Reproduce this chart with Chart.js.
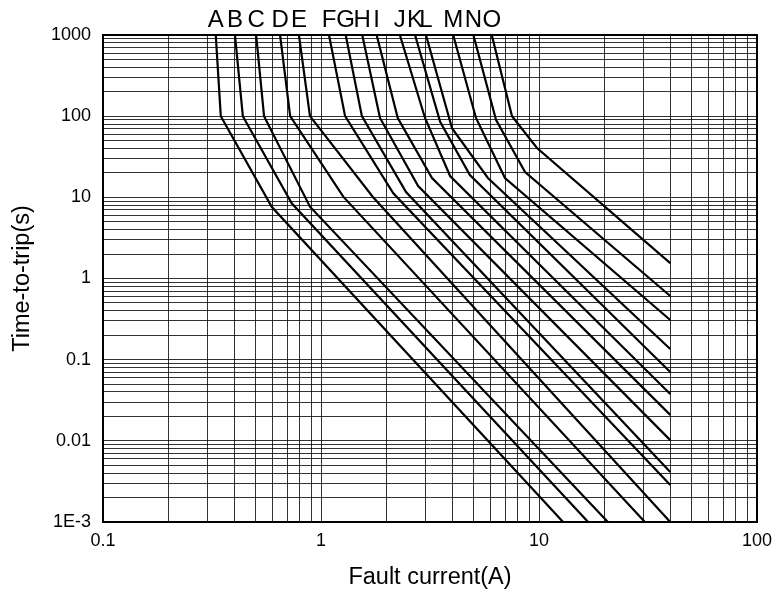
<!DOCTYPE html>
<html>
<head>
<meta charset="utf-8">
<script src="https://cdn.jsdelivr.net/npm/chart.js@4.4.1/dist/chart.umd.min.js"></script>
<style>
  body { margin: 0; background: #fff; }
  #wrap { width: 782px; height: 592px; }
</style>
</head>
<body>
<div id="wrap"><canvas id="grafico"></canvas></div>
<script>
// curve names, shown above the top of the plot
const curveNames = ['A', 'B', 'C', 'D', 'E', 'F', 'G', 'H', 'I', 'J', 'K', 'L', 'M', 'N', 'O'];

// [current (A), time (s)], one list per curve
const curveA = [[0.329, 1000], [0.347, 100], [0.595, 7.6], [12.9, 0.001]];
const curveB = [[0.403, 1000], [0.438, 100], [0.734, 8.45], [16.8, 0.001]];
const curveC = [[0.504, 1000], [0.548, 100], [0.89, 7.67], [20.7, 0.001]];
const curveD = [[0.649, 1000], [0.722, 100], [1.265, 10.2], [30.6, 0.001]];
const curveE = [[0.792, 1000], [0.89, 100], [1.73, 10.1], [40, 0.001]];
const curveF = [[1.088, 1000], [1.29, 100], [2.146, 11.2], [40, 0.00286]];
const curveG = [[1.298, 1000], [1.54, 100], [2.455, 11.6], [40, 0.00413]];
const curveH = [[1.546, 1000], [1.865, 95], [2.79, 13.8], [40, 0.0102]];
const curveI = [[1.80, 1000], [2.25, 95], [3.23, 17.3], [40, 0.0209]];
const curveJ = [[2.30, 1000], [3.0, 95], [3.91, 18.3], [40, 0.0378]];
const curveK = [[2.70, 1000], [3.52, 85], [4.82, 18.8], [40, 0.0705]];
const curveL = [[3.03, 1000], [3.99, 71], [5.83, 17.3], [40, 0.1355]];
const curveM = [[4.04, 1000], [5.14, 95], [6.98, 17.3], [40, 0.308]];
const curveN = [[5.0, 1000], [6.35, 90], [8.63, 20.5], [40, 0.609]];
const curveO = [[6.07, 1000], [7.52, 100], [9.79, 40.5], [40, 1.55]];

const curves = [curveA, curveB, curveC, curveD, curveE, curveF, curveG, curveH,
                curveI, curveJ, curveK, curveL, curveM, curveN, curveO];

// axis decades and their labels
const xMajor = [0.1, 1, 10, 100];
const xTickLabels = ['0.1', '1', '10', '100'];
const yMajor = [0.001, 0.01, 0.1, 1, 10, 100, 1000];
const yTickLabels = ['1E-3', '0.01', '0.1', '1', '10', '100', '1000'];

// 1..9 inside each decade, for the log grid
function logTicks(majors) {
    const out = [];
    for (let d = 0; d < majors.length - 1; d++) {
        for (let m = 1; m <= 9; m++) out.push(m * majors[d]);
    }
    out.push(majors[majors.length - 1]);
    return out;
}

function labelFor(v, majors, labels) {
    const i = majors.findIndex(m => Math.abs(v / m - 1) < 1e-6);
    return i >= 0 ? labels[i] : '';
}

const FONT = '"Liberation Sans", Arial, sans-serif';

// frame around the plot + letters on top
const moldura = {
    id: 'moldura',
    afterDraw(chart) {
        const { ctx, chartArea: a, scales } = chart;
        ctx.save();
        ctx.strokeStyle = '#000';
        ctx.lineWidth = 2;
        ctx.strokeRect(a.left, a.top, a.right - a.left, a.bottom - a.top);
        ctx.fillStyle = '#000';
        ctx.font = '24px ' + FONT;
        ctx.textAlign = 'center';
        ctx.textBaseline = 'alphabetic';
        curves.forEach((c, i) => {
            const x = scales.x.getPixelForValue(c[0][0]);
            ctx.fillText(curveNames[i], x, a.top - 8);
        });
        ctx.restore();
    }
};

document.addEventListener('DOMContentLoaded', () => {
    const ctx = document.getElementById('grafico').getContext('2d');
    new Chart(ctx, {
        type: 'line',
        data: {
            datasets: curves.map((c, i) => ({
                label: curveNames[i],
                data: c.map(([x, y]) => ({ x, y })),
                borderColor: '#000',
                borderWidth: 2.2,
                pointRadius: 0,
                tension: 0,
                fill: false
            }))
        },
        options: {
            responsive: true,
            maintainAspectRatio: false,
            animation: false,
            layout: { padding: { top: 35, right: 25, left: 0, bottom: 0 } },
            plugins: {
                legend: { display: false },
                tooltip: { enabled: false }
            },
            scales: {
                x: {
                    type: 'logarithmic',
                    min: 0.1,
                    max: 100,
                    afterBuildTicks: s => { s.ticks = logTicks(xMajor).map(v => ({ value: v })); },
                    afterFit: s => { s.height = 70; },
                    grid: { color: 'rgba(0,0,0,0.8)', lineWidth: 1, drawTicks: false },
                    border: { color: '#000', width: 2 },
                    ticks: {
                        autoSkip: false,
                        maxRotation: 0,
                        padding: 8,
                        color: '#000',
                        font: { family: FONT, size: 18 },
                        callback: v => labelFor(v, xMajor, xTickLabels)
                    },
                    title: {
                        display: true,
                        text: 'Fault current(A)',
                        color: '#000',
                        font: { family: FONT, size: 23.5 },
                        padding: { top: 0, bottom: 0 }
                    }
                },
                y: {
                    type: 'logarithmic',
                    min: 0.001,
                    max: 1000,
                    afterBuildTicks: s => { s.ticks = logTicks(yMajor).map(v => ({ value: v })); },
                    afterFit: s => { s.width = 103; },
                    grid: { color: 'rgba(0,0,0,0.8)', lineWidth: 1, drawTicks: false },
                    border: { color: '#000', width: 2 },
                    ticks: {
                        autoSkip: false,
                        padding: 12,
                        color: '#000',
                        font: { family: FONT, size: 18 },
                        callback: v => labelFor(v, yMajor, yTickLabels)
                    },
                    title: {
                        display: true,
                        text: 'Time-to-trip(s)',
                        color: '#000',
                        font: { family: FONT, size: 23.5 },
                        padding: { top: 8, bottom: 0 }
                    }
                }
            }
        },
        plugins: [moldura]
    });
});
</script>
</body>
</html>
